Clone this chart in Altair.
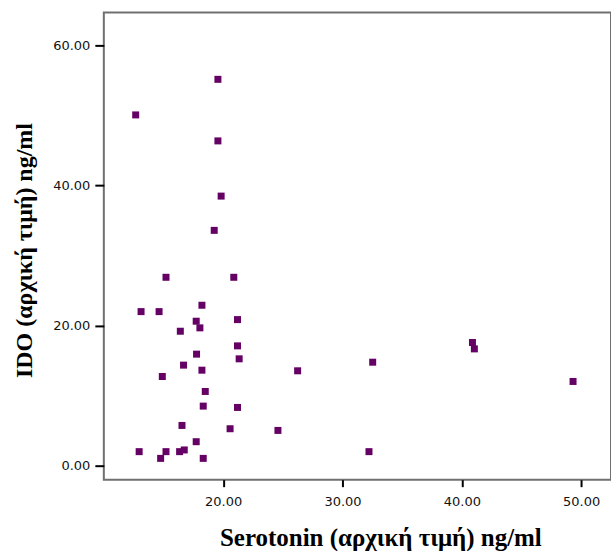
import altair as alt
import pandas as pd

# Serotonin (baseline) vs IDO (baseline), ng/ml
serotonin = [
    19.56, 12.67, 19.56, 19.83, 19.25,
    15.21, 20.89, 18.22, 13.12, 14.63, 17.74, 21.20, 18.05, 16.41,
    21.20, 17.77, 21.34, 16.68, 18.22, 26.24, 14.90, 18.50, 18.33,
    21.20, 16.55, 20.58, 24.59, 17.74, 12.96, 15.21, 16.35, 16.74,
    14.76, 18.33,
    32.53, 40.89, 41.05, 49.32, 32.22,
]
ido = [
    55.15, 50.07, 46.36, 38.48, 33.59,
    26.89, 26.89, 22.90, 21.99, 21.99, 20.62, 20.85, 19.67, 19.19,
    17.10, 15.92, 15.25, 14.35, 13.63, 13.54, 12.73, 10.59, 8.50,
    8.31, 5.74, 5.27, 5.03, 3.42, 2.00, 2.00, 2.00, 2.24,
    1.04, 1.04,
    14.77, 17.58, 16.67, 12.02, 2.00,
]

x_ticks = [20, 30, 40, 50]
y_ticks = [0, 20, 40, 60]

df = pd.DataFrame({"serotonin": serotonin, "ido": ido})

label_font = "DejaVu Sans"
title_font = "Liberation Serif"

chart = (
    alt.Chart(df)
    .mark_point(shape="square", filled=True, size=49, color="#650065", opacity=1)
    .encode(
        x=alt.X(
            "serotonin:Q",
            scale=alt.Scale(domain=[10, 52.5], nice=False, zero=False),
            axis=alt.Axis(
                title="Serotonin (αρχική τιμή) ng/ml",
                values=x_ticks,
                format=".2f",
                grid=False,
                domain=False,
                tickSize=7,
                tickWidth=2,
                tickColor="#000000",
                labelFont=label_font,
                labelFontSize=13,
                labelColor="#111111",
                labelPadding=9,
                titleFont=title_font,
                titleFontSize=25,
                titleFontWeight="bold",
                titleColor="#000000",
                titleAnchor="start",
                titleAlign="center",
                titleBaseline="alphabetic",
                titleX=277,
                titleY=66,
            ),
        ),
        y=alt.Y(
            "ido:Q",
            scale=alt.Scale(domain=[-2, 64.7], nice=False, zero=False),
            axis=alt.Axis(
                title="IDO (αρχική τιμή) ng/ml",
                values=y_ticks,
                format=".2f",
                grid=False,
                domain=False,
                tickSize=9,
                tickWidth=2,
                tickColor="#000000",
                labelFont=label_font,
                labelFontSize=13,
                labelColor="#111111",
                labelPadding=5,
                titleFont=title_font,
                titleFontSize=24,
                titleFontWeight="bold",
                titleColor="#000000",
                titleAngle=-90,
                titleAlign="center",
                titleBaseline="alphabetic",
                titleX=-72,
                titleY=238,
            ),
        ),
    )
    .properties(
        width=508,
        height=468,
        autosize=alt.AutoSizeParams(type="none"),
        padding={"left": 104, "top": 12, "right": 0, "bottom": 71},
    )
    .configure(background="#ffffff")
    .configure_view(stroke="#707070", strokeWidth=2)
)

chart.save("out.html", embed_options={"renderer": "svg", "actions": False})
